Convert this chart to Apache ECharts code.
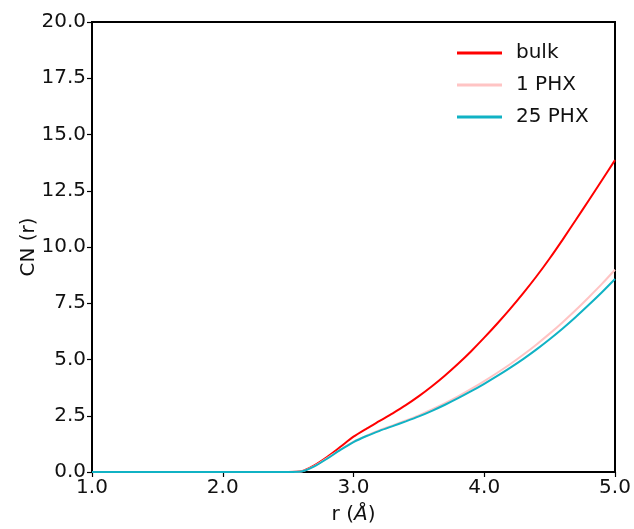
<!DOCTYPE html>
<html>
<head>
<meta charset="utf-8">
<script src="https://cdn.jsdelivr.net/npm/echarts@6/dist/echarts.min.js"></script>
<style>html,body{margin:0;padding:0;background:#fff}#c{width:634px;height:529px}</style>
</head>
<body>
<div id="c"></div>
<script>
const rValues = [1.0,1.1,1.2,1.3,1.4,1.5,1.6,1.7,1.8,1.9,2.0,2.1,2.2,2.3,2.4,2.5,2.6,2.7,2.8,2.9,3.0,3.1,3.2,3.3,3.4,3.5,3.6,3.7,3.8,3.9,4.0,4.1,4.2,4.3,4.4,4.5,4.6,4.7,4.8,4.9,5.0];
const bulk = [0,0,0,0,0,0,0,0,0,0,0,0,0,0,0,0,0.03,0.3,0.68,1.12,1.57,1.93,2.27,2.61,2.97,3.37,3.81,4.29,4.81,5.37,5.97,6.60,7.26,7.96,8.70,9.49,10.33,11.20,12.08,12.97,13.86];
const phx1 = [0,0,0,0,0,0,0,0,0,0,0,0,0,0,0,0,0.02,0.26,0.62,1.0,1.35,1.62,1.86,2.07,2.29,2.52,2.78,3.06,3.36,3.69,4.04,4.41,4.80,5.22,5.67,6.15,6.66,7.20,7.77,8.36,8.99];
const phx25 = [0,0,0,0,0,0,0,0,0,0,0,0,0,0,0,0,0.02,0.25,0.6,0.98,1.33,1.60,1.83,2.04,2.25,2.47,2.72,2.99,3.28,3.59,3.92,4.27,4.64,5.03,5.45,5.90,6.38,6.89,7.43,7.99,8.58];
const xTicks = [1.0,2.0,3.0,4.0,5.0];
const yTicks = [0,2.5,5,7.5,10,12.5,15,17.5,20];
const names = ['bulk','1 PHX','25 PHX'];

const font = 'DejaVu Sans';
const txt = '#111';
const pair = (ys) => rValues.map((x,i)=>[x, ys[i]]);
const chart = echarts.init(document.getElementById('c'), null, {renderer:'canvas'});
const mk = (name, ys, color) => ({
  name, type:'line', data: pair(ys), showSymbol:false, symbol:'none',
  smooth:0.25,
  lineStyle:{color, width:2}, itemStyle:{color}
});
chart.setOption({
  animation:false,
  backgroundColor:'#fff',
  grid:{left:92, right:19, top:22, bottom:57, show:true, borderColor:'#000', borderWidth:2, containLabel:false, outerBoundsMode:'none'},
  legend:{
    orient:'vertical', left:452, top:38, itemWidth:45, itemHeight:3, itemGap:12,
    icon:'rect',
    textStyle:{fontFamily:font, fontSize:20, color:txt, padding:[0,0,0,9]},
    data:names
  },
  xAxis:{
    type:'value', min:xTicks[0], max:xTicks[xTicks.length-1], interval:1,
    name:'r ({i|Å})', nameLocation:'middle', nameGap:33,
    nameTextStyle:{fontFamily:font, fontSize:20, color:txt, rich:{i:{fontFamily:font, fontSize:20, fontStyle:'italic', color:txt}}},
    axisLine:{show:true, lineStyle:{color:'#000', width:2}},
    axisTick:{show:true, inside:false, length:5, lineStyle:{color:'#000', width:1.2}},
    axisLabel:{fontFamily:font, fontSize:20, color:txt, margin:6, formatter:v=>v.toFixed(1)},
    splitLine:{show:false}
  },
  yAxis:{
    type:'value', min:yTicks[0], max:yTicks[yTicks.length-1], interval:2.5,
    name:'CN (r)', nameLocation:'middle', nameGap:53, nameMoveOverlap:false,
    nameTextStyle:{fontFamily:font, fontSize:20, color:txt},
    axisLine:{show:true, lineStyle:{color:'#000', width:2}},
    axisTick:{show:true, inside:false, length:5, lineStyle:{color:'#000', width:1.2}},
    axisLabel:{fontFamily:font, fontSize:20, color:txt, margin:6, formatter:v=>v.toFixed(1)},
    splitLine:{show:false}
  },
  series:[
    mk(names[0], bulk, '#ff0000'),
    mk(names[1], phx1, '#ffc4c4'),
    mk(names[2], phx25, '#10b2c4')
  ]
});
</script>
</body>
</html>
